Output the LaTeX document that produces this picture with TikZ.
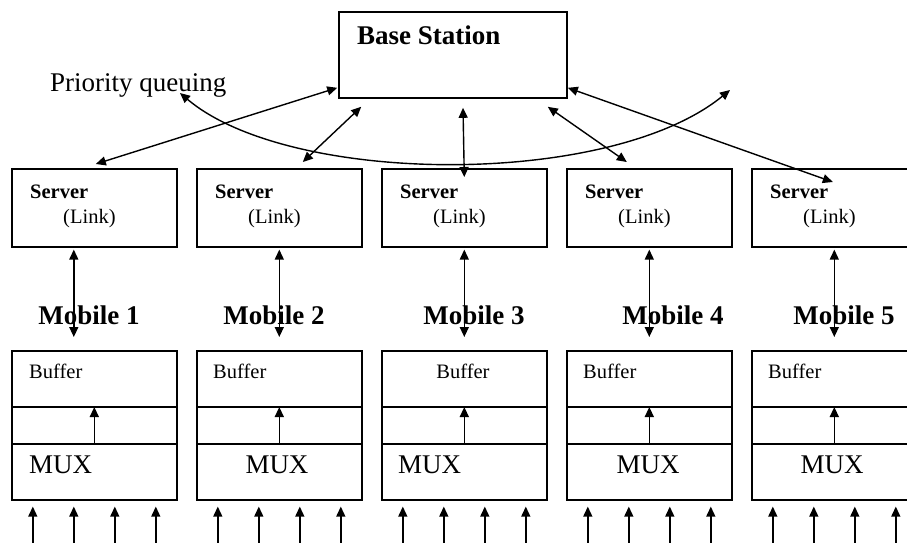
\documentclass[tikz,border=0pt]{standalone}
\usepackage{fontspec}
\setmainfont{Liberation Serif}
\usetikzlibrary{arrows.meta}
\begin{document}
\begin{tikzpicture}[x=1pt,y=-1pt,
  box/.style={draw,line width=1.6pt,minimum width=165pt,inner sep=0pt},
  srvbox/.style={box,minimum height=78pt},
  bufbox/.style={box,minimum height=149pt},
  conn/.style={line width=1.4pt,{Triangle[length=10pt,width=9pt]}-{Triangle[length=10pt,width=9pt]}},
  upar/.style={line width=1.4pt,-{Triangle[length=10pt,width=9pt]}},
  big/.style={font=\fontsize{27}{30}\selectfont,inner sep=0pt},
  bigb/.style={font=\fontsize{27}{30}\selectfont\bfseries,inner sep=0pt},
  small/.style={font=\fontsize{20.5}{23}\selectfont,inner sep=0pt},
  smallb/.style={font=\fontsize{20.5}{23}\selectfont\bfseries,inner sep=0pt}]
\clip (0,0) rectangle (907,542);
\fill[white] (0,0) rectangle (907,542);

% Base station
\node[draw,line width=1.6pt,minimum width=228pt,minimum height=86pt,inner sep=0pt] (bs) at (453,55) {};
\node[bigb,anchor=base west] (bst) at (357,44) {Base Station};
\node[big,anchor=base west] (pq) at (50,91) {Priority queuing};

% Servers and mobiles
\foreach \i in {1,...,5}{
  \pgfmathsetmacro{\lx}{11+185*(\i-1)}
  \node[srvbox,anchor=north west] (s\i) at (\lx,168) {};
  \node[smallb,anchor=base west] (st\i) at (\lx+19,198) {Server};
  \node[small,anchor=base west] (lt\i) at (\lx+52,223) {(Link)};
  \node[bufbox,anchor=north west] (b\i) at (\lx,350) {};
  \draw[line width=1.6pt] ([yshift=-57pt]b\i.north west) -- ([yshift=-57pt]b\i.north east);
  \draw[line width=1.6pt] ([yshift=-94pt]b\i.north west) -- ([yshift=-94pt]b\i.north east);
  \draw[upar] ([yshift=-94pt]b\i.north) -- ([yshift=-57pt]b\i.north);
  \foreach \o [count=\k] in {-61.5,-20.5,20.5,61.5}{
    \coordinate (in\i\k) at ([xshift=\o pt,yshift=-43pt]b\i.south);
    \draw[upar] (in\i\k) -- ([xshift=\o pt,yshift=-6pt]b\i.south);
  }
}

% Mobile labels
\node[bigb,anchor=base] (m1) at (89,324) {Mobile 1};
\node[bigb,anchor=base] (m2) at (274,324) {Mobile 2};
\node[bigb,anchor=base] (m3) at (474,324) {Mobile 3};
\node[bigb,anchor=base] (m4) at (673,324) {Mobile 4};
\node[bigb,anchor=base] (m5) at (844,324) {Mobile 5};

% Buffer / MUX labels
\node[small,anchor=base west] (bf1) at (29,378) {Buffer};
\node[small,anchor=base west] (bf2) at (213,378) {Buffer};
\node[small,anchor=base] (bf3) at (463,378) {Buffer};
\node[small,anchor=base west] (bf4) at (583,378) {Buffer};
\node[small,anchor=base west] (bf5) at (768,378) {Buffer};
\node[big,anchor=base west] (mx1) at (29,473) {MUX};
\node[big,anchor=base] (mx2) at (277,473) {MUX};
\node[big,anchor=base west] (mx3) at (398,473) {MUX};
\node[big,anchor=base] (mx4) at (648,473) {MUX};
\node[big,anchor=base] (mx5) at (832,473) {MUX};

% server <-> buffer
\draw[conn] ([xshift=-20.5pt,yshift=-2pt]s1.south) -- ([xshift=-20.5pt,yshift=13pt]b1.north);
\foreach \i in {2,...,5}{
  \draw[conn] ([yshift=-2pt]s\i.south) -- ([yshift=13pt]b\i.north);
}

% base station <-> servers
\draw[conn] ([xshift=1.5pt,yshift=4pt]s1.north) -- ([xshift=-1pt,yshift=11pt]bs.south west);
\draw[conn] ([xshift=23.5pt,yshift=6pt]s2.north) -- ([xshift=23pt,yshift=-8pt]bs.south west);
\draw[conn] ([xshift=10pt,yshift=-9pt]bs.south) -- ([yshift=-9pt]s3.north);
\draw[conn] ([xshift=-20pt,yshift=-8pt]bs.south east) -- ([xshift=-22.5pt,yshift=6pt]s4.north);
\draw[conn] ([yshift=11pt]bs.south east) -- ([xshift=-1.5pt,yshift=-14pt]s5.north);

% priority queuing curve
\coordinate (pqa) at (180,93);
\coordinate (pqb) at (730,90);
\draw[conn] (pqa) .. controls (290,186) and (610,188) .. (pqb);
\end{tikzpicture}
\end{document}
